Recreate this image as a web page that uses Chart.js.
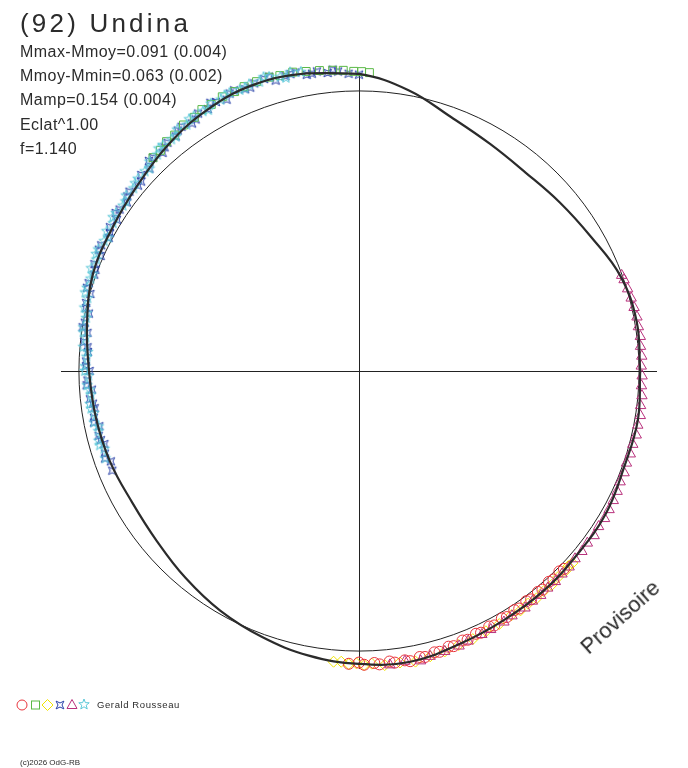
<!DOCTYPE html>
<html>
<head>
<meta charset="utf-8">
<title>(92) Undina</title>
<script src="https://cdn.jsdelivr.net/npm/chart.js@4.4.1/dist/chart.umd.min.js"></script>
<style>
  body { margin: 0; background: #fff; }
  #wrap { position: relative; width: 688px; height: 768px; overflow: hidden;
          font-family: "Liberation Sans", Arial, sans-serif; color: #2b2b2b; }
  #wrap canvas { position: absolute; left: 0; top: 0; }
  .txt { position: absolute; white-space: nowrap; }
  #title { left: 20px; top: 9.5px; font-size: 26px; line-height: 26px; letter-spacing: 3.2px; }
  #info { left: 20px; top: 39.6px; font-size: 16px; line-height: 24.4px; letter-spacing: 0.45px; }
  #observer { left: 97px; top: 700.4px; font-size: 9.5px; line-height: 9.5px; letter-spacing: 0.6px; }
  #copy { left: 20px; top: 758.8px; font-size: 8px; line-height: 8px; }
  #stamp { left: 589px; top: 637.4px; font-size: 22px; line-height: 22px;
           transform-origin: 0 18.6px; transform: rotate(-42deg); }
  #legend { position: absolute; left: 0; top: 695px; }
</style>
</head>
<body>
<div id="wrap">
  <canvas id="polarChart" width="688" height="768"></canvas>
  <div class="txt" id="title">(92) Undina</div>
  <div class="txt" id="info">Mmax-Mmoy=0.091 (0.004)<br>Mmoy-Mmin=0.063 (0.002)<br>Mamp=0.154 (0.004)<br>Eclat^1.00<br>f=1.140</div>
  <svg id="legend" width="100" height="20">
    <circle cx="22" cy="10" r="5" fill="none" stroke="#e8343c"/>
    <rect x="31.5" y="6" width="8" height="8" fill="none" stroke="#5ab946"/>
    <polygon points="47.5,4.5 53,10 47.5,15.5 42,10" fill="none" stroke="#f0e400"/>
    <polygon points="63.9,6.1 62,10 63.9,13.9 60,12 56.1,13.9 58,10 56.1,6.1 60,8" fill="none" stroke="#2840a8"/>
    <polygon points="72,4.5 77,13.5 67,13.5" fill="none" stroke="#b8307c"/>
    <polygon points="84,4 85.35,7.64 89.23,7.8 86.19,10.21 87.23,13.95 84,11.8 80.77,13.95 81.81,10.21 78.77,7.8 82.65,7.64" fill="none" stroke="#5cc8d8"/>
  </svg>
  <div class="txt" id="observer">Gerald Rousseau</div>
  <div class="txt" id="copy">(c)2026 OdG-RB</div>
  <div class="txt" id="stamp">Provisoire</div>
</div>
<script>
'use strict';

// fitted lightcurve: phase in degrees, radius relative to the reference circle (1 = mean)
let curvePhase = [0, 10, 20, 30, 40, 50, 60, 70, 80, 90, 100, 110, 120, 130, 140, 150, 160, 170,
  180, 190, 200, 210, 220, 230, 240, 250, 260, 270, 280, 290, 300, 310, 320, 330, 340, 350];
let curveRadius = [1.004, 1.007, 0.993, 0.957, 0.936, 0.925, 0.936, 0.964, 1.018, 1.061, 1.079, 1.089,
  1.079, 1.057, 1.032, 1.018, 1.011, 0.986, 0.964, 0.954, 0.946, 0.936, 0.943, 0.964, 0.989, 1.011,
  1.032, 1.046, 1.054, 1.039, 1.029, 1.025, 1.018, 1.018, 1.007, 1.011];

// observations, one pair of arrays per session
let redPhase = [268, 270, 271, 273, 274, 276, 277, 279, 280, 282, 283, 285, 286, 288, 289, 291, 292,
  294, 295, 297, 298, 300, 301, 303, 304, 306, 307, 309, 310, 312, 313, 315, 316];
let redRadius = [1.046, 1.041, 1.049, 1.044, 1.050, 1.043, 1.049, 1.046, 1.052, 1.044, 1.048, 1.040,
  1.043, 1.035, 1.039, 1.031, 1.035, 1.027, 1.031, 1.024, 1.029, 1.020, 1.025, 1.018, 1.023, 1.016,
  1.021, 1.015, 1.019, 1.013, 1.018, 1.012, 1.017];

let greenPhase = [88, 89.5, 91, 93, 95, 97.5, 100, 102.5, 105, 107, 109.5, 112, 114, 116.5, 119, 121,
  123, 125.5, 128, 130, 132, 134];
let greenRadius = [1.066, 1.069, 1.070, 1.075, 1.078, 1.082, 1.086, 1.093, 1.092, 1.097, 1.096, 1.095,
  1.092, 1.094, 1.088, 1.089, 1.080, 1.079, 1.069, 1.069, 1.060, 1.059];

let yellowPhase = [265, 266.5, 268, 269.5, 271, 272.5, 275, 278, 281, 284, 287, 290, 293, 296, 299,
  302, 304, 306, 308, 310, 312, 314, 316, 317, 318];
let yellowRadius = [1.042, 1.040, 1.047, 1.044, 1.050, 1.046, 1.054, 1.051, 1.057, 1.050, 1.047, 1.041,
  1.040, 1.034, 1.033, 1.028, 1.031, 1.027, 1.030, 1.026, 1.028, 1.023, 1.026, 1.022, 1.025];

let bluePhase = [90, 92, 94, 96, 98, 100, 102, 104, 106, 108, 110, 112, 114, 116, 118, 120, 122, 124,
  126, 128, 130, 132, 134, 136, 138, 140, 142, 144, 146, 148, 150, 152, 154, 156, 158, 160, 162, 164,
  166, 168, 170, 172, 174, 176, 178, 180, 182, 184, 186, 188, 190, 192, 194, 196, 198, 200, 202,
  95, 99, 103, 107, 111, 115, 119, 123, 127, 131, 135, 139, 143, 147, 151, 155, 159, 163, 167, 171,
  175, 179, 183, 187, 191, 195, 199];
let blueRadius = [1.058, 1.062, 1.072, 1.070, 1.080, 1.074, 1.090, 1.085, 1.079, 1.096, 1.093, 1.085,
  1.097, 1.078, 1.088, 1.080, 1.084, 1.066, 1.078, 1.063, 1.064, 1.048, 1.058, 1.040, 1.046, 1.030,
  1.040, 1.024, 1.031, 1.019, 1.027, 1.012, 1.024, 1.010, 1.019, 1.006, 1.015, 0.998, 1.004, 0.986,
  0.994, 0.979, 0.987, 0.970, 0.975, 0.962, 0.970, 0.956, 0.966, 0.953, 0.961, 0.948, 0.958, 0.946,
  0.954, 0.943, 0.950,
  1.080, 1.075, 1.088, 1.099, 1.084, 1.093, 1.095, 1.071, 1.075, 1.058, 1.061, 1.031, 1.036, 1.036,
  1.017, 1.025, 1.008, 1.016, 1.000, 0.999, 0.973, 0.975, 0.974, 0.957, 0.964, 0.954, 0.959];

let magentaPhase = [276, 279, 282, 284, 287, 290, 292, 295, 297, 300, 302, 305, 307, 309, 311, 313,
  315, 317, 319, 321, 323, 325, 327, 329, 331, 333, 335, 337, 339, 341, 343, 345, 347, 349, 351, 353,
  355, 357, 359, 1, 3, 5, 7, 9, 11, 13, 15, 17, 19, 20];
let magentaRadius = [1.055, 1.049, 1.058, 1.050, 1.047, 1.045, 1.040, 1.038, 1.036, 1.035, 1.031,
  1.033, 1.029, 1.031, 1.027, 1.028, 1.025, 1.026, 1.022, 1.024, 1.021, 1.025, 1.020, 1.023, 1.021,
  1.019, 1.017, 1.013, 1.014, 1.010, 1.013, 1.012, 1.016, 1.014, 1.017, 1.013, 1.014, 1.010, 1.011,
  1.008, 1.011, 1.009, 1.012, 1.010, 1.011, 1.008, 1.006, 1.003, 1.001, 0.998];

let cyanPhase = [101, 103, 105, 107, 109, 111, 113, 115, 117, 119, 121, 123, 125, 127, 129, 131, 133,
  135, 137, 139, 141, 143, 145, 147, 149, 151, 153, 155, 157, 159, 161, 163, 165, 167, 169, 171, 173,
  175, 177, 179, 181, 183, 185, 187, 189, 191, 193, 195, 197, 199,
  104, 108, 112, 116, 120, 124, 128, 132, 136, 140, 144, 148, 152, 156, 160, 164, 168, 172, 176, 180,
  184, 188, 192, 196];
let cyanRadius = [1.088, 1.094, 1.087, 1.098, 1.092, 1.096, 1.090, 1.095, 1.087, 1.091, 1.082, 1.084,
  1.073, 1.079, 1.064, 1.068, 1.056, 1.057, 1.045, 1.046, 1.036, 1.041, 1.029, 1.035, 1.024, 1.030,
  1.021, 1.027, 1.018, 1.024, 1.013, 1.016, 1.003, 1.006, 0.992, 0.996, 0.983, 0.988, 0.974, 0.978,
  0.966, 0.972, 0.961, 0.968, 0.958, 0.964, 0.955, 0.962, 0.951, 0.958,
  1.079, 1.103, 1.089, 1.095, 1.076, 1.084, 1.062, 1.069, 1.040, 1.043, 1.030, 1.036, 1.014, 1.027,
  1.011, 1.017, 0.994, 0.994, 0.971, 0.979, 0.964, 0.966, 0.951, 0.963];

let axisLimit = 1.064;

function toXY(phases, radii) {
  let points = [];
  for (let i = 0; i < phases.length; i++) {
    let a = phases[i] * Math.PI / 180;
    points.push({ x: radii[i] * Math.cos(a), y: radii[i] * Math.sin(a) });
  }
  return points;
}

// outline star used as a point style
function starMarker(color, spikes, outer, inner, start) {
  let size = Math.ceil(outer * 2 + 3);
  let c = document.createElement('canvas');
  c.width = size;
  c.height = size;
  let ctx = c.getContext('2d');
  let mid = size / 2;
  ctx.beginPath();
  for (let i = 0; i < spikes * 2; i++) {
    let r = i % 2 === 0 ? outer : inner;
    let a = start + i * Math.PI / spikes;
    let px = mid + r * Math.cos(a);
    let py = mid + r * Math.sin(a);
    if (i === 0) ctx.moveTo(px, py);
    else ctx.lineTo(px, py);
  }
  ctx.closePath();
  ctx.strokeStyle = color;
  ctx.lineWidth = 1;
  ctx.stroke();
  return c;
}

function session(points, color, style, radius, order) {
  return {
    data: points,
    pointStyle: style,
    pointRadius: radius,
    pointBorderColor: color,
    pointBackgroundColor: 'transparent',
    pointBorderWidth: 1,
    showLine: false,
    clip: false,
    order: order,
  };
}

let curvePoints = toXY(curvePhase, curveRadius);
curvePoints.push(curvePoints[0]);

// reference circle of radius 1, drawn in chart units
const refCircle = {
  id: 'refCircle',
  beforeDatasetsDraw(chart) {
    let xs = chart.scales.x;
    let ys = chart.scales.y;
    let cx = xs.getPixelForValue(0);
    let cy = ys.getPixelForValue(0);
    let r = xs.getPixelForValue(1) - cx;
    let ctx = chart.ctx;
    ctx.save();
    ctx.beginPath();
    ctx.arc(cx, cy, r, 0, Math.PI * 2);
    ctx.strokeStyle = '#222';
    ctx.lineWidth = 1;
    ctx.stroke();
    ctx.restore();
  },
};

function zeroAxis() {
  return {
    type: 'linear',
    min: -axisLimit,
    max: axisLimit,
    afterBuildTicks: (scale) => { scale.ticks = [{ value: 0 }]; },
    ticks: { display: false },
    border: { display: false },
    grid: {
      drawTicks: false,
      color: (c) => (c.tick && c.tick.value === 0 ? '#222' : 'transparent'),
      lineWidth: 1,
    },
  };
}

const config = {
  type: 'scatter',
  data: {
    datasets: [
      {
        data: curvePoints,
        showLine: true,
        pointRadius: 0,
        borderColor: '#2b2b2b',
        borderWidth: 2.2,
        tension: 0.4,
        clip: false,
        order: 0,
      },
      session(toXY(redPhase, redRadius), '#e8343c', 'circle', 5.5, 2),
      session(toXY(greenPhase, greenRadius), '#5ab946', 'rect', 5.6, 2),
      session(toXY(yellowPhase, yellowRadius), '#f0e400', 'rectRot', 5.5, 2),
      session(toXY(bluePhase, blueRadius), '#2840a8', starMarker('#2840a8', 4, 5.5, 2, -Math.PI / 4), 5, 2),
      session(toXY(magentaPhase, magentaRadius), '#b8307c', 'triangle', 6, 1),
      session(toXY(cyanPhase, cyanRadius), '#5cc8d8', starMarker('#5cc8d8', 5, 5.5, 2.3, -Math.PI / 2), 5, 1),
    ],
  },
  options: {
    responsive: false,
    animation: false,
    events: [],
    devicePixelRatio: 1,
    layout: { padding: { left: 61, right: 31, top: 73, bottom: 99 } },
    plugins: { legend: { display: false }, tooltip: { enabled: false } },
    scales: { x: zeroAxis(), y: zeroAxis() },
  },
  plugins: [refCircle],
};

new Chart(document.getElementById('polarChart'), config);
</script>
</body>
</html>
